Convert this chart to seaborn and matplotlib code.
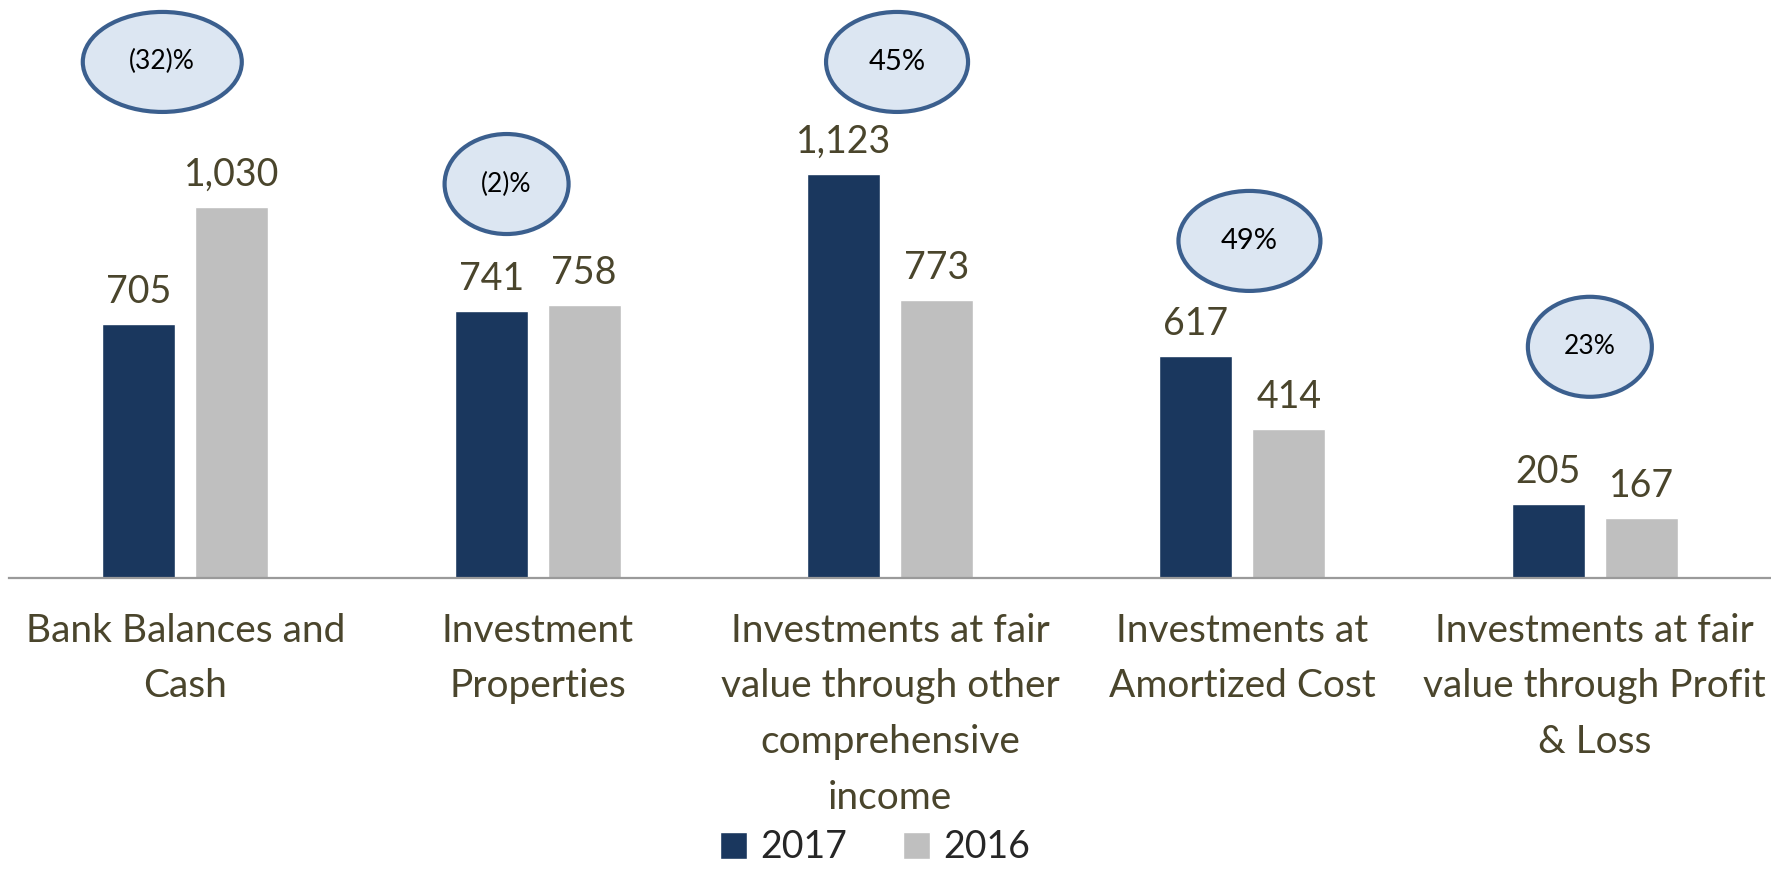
import pandas as pd
import seaborn as sns
import matplotlib.pyplot as plt
from matplotlib.patches import Ellipse, Patch

# Data
categories = [
    'Bank Balances and\nCash',
    'Investment\nProperties',
    'Investments at fair\nvalue through other\ncomprehensive\nincome',
    'Investments at\nAmortized Cost',
    'Investments at fair\nvalue through Profit\n& Loss',
]
values_2017 = [705, 741, 1123, 617, 205]
values_2016 = [1030, 758, 773, 414, 167]
years = ['2017', '2016']
change_labels = ['(32)%', '(2)%', '45%', '49%', '23%']

# Bubble layout (x offset from category, y in value units, size in px)
bubble_dx = [-0.065, -0.088, 0.02, 0.02, -0.014]
bubble_y = [1433, 1094, 1433, 936, 642]
bubble_w = [159, 124, 142, 142, 124]
bubble_h = [100, 100, 100, 100, 100]
bubble_fs = [19, 19, 21, 21, 19]

navy = '#1A375E'
grey = '#BFBFBF'
text_col = '#4A452C'

df = pd.DataFrame({
    'category': categories * 2,
    'value': values_2017 + values_2016,
    'year': [years[0]] * 5 + [years[1]] * 5,
})

sns.set_style('white')
plt.rcParams['font.family'] = ['Lato', 'DejaVu Sans']

fig = plt.figure(figsize=(17.71, 8.72), dpi=100)
ax = fig.add_axes([9 / 1771, 1 - 578 / 872, 1 - 9 / 1771, 578 / 872])

sns.barplot(data=df, x='category', y='value', hue='year', hue_order=years,
            palette=[navy, grey], width=0.528, gap=0.216, saturation=1,
            legend=False, ax=ax)

ax.set_xlim(-0.5, 4.5)
ax.set_ylim(0, 1605)
for c in ax.containers:
    ax.bar_label(c, fmt='{:,.0f}', padding=10, fontsize=27, color=text_col)

ax.set_xlabel('')
ax.set_ylabel('')
ax.set_yticks([])
ax.tick_params(axis='x', length=0, pad=25)
ax.set_xticks(range(len(categories)))
ax.set_xticklabels(categories, fontsize=28, color=text_col, linespacing=1.68)
for s in ['top', 'left', 'right']:
    ax.spines[s].set_visible(False)
ax.spines['bottom'].set_color('#9A9A9A')
ax.spines['bottom'].set_linewidth(1.6)

# change bubbles
px_x = 1762 / 5
px_y = 578 / 1605
for i, lab in enumerate(change_labels):
    cx = i + bubble_dx[i]
    e = Ellipse((cx, bubble_y[i]), bubble_w[i] / px_x, bubble_h[i] / px_y,
                facecolor='#DCE6F2', edgecolor='#3B5F8E', linewidth=3,
                clip_on=False, zorder=5)
    ax.add_patch(e)
    ax.text(cx, bubble_y[i], lab, ha='center', va='center',
            fontsize=bubble_fs[i], color='black', zorder=6)

handles = [Patch(facecolor=navy, label=years[0]),
           Patch(facecolor=grey, label=years[1])]
fig.legend(handles=handles, loc='lower center', ncol=2, frameon=False,
           fontsize=27, handlelength=0.72, handleheight=0.72,
           handletextpad=0.35, columnspacing=1.5,
           bbox_to_anchor=(0.494, -0.031))

fig.savefig('out.png', dpi=100)
